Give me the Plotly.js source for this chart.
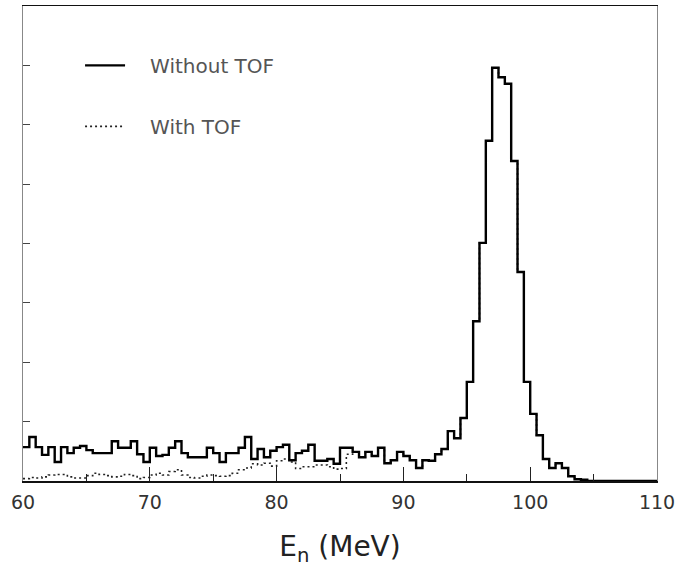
<!DOCTYPE html>
<html>
<head>
<meta charset="utf-8">
<script src="https://cdn.plot.ly/plotly-3.0.1.min.js"></script>
<style>
  html, body { margin: 0; padding: 0; background: #fff; }
  #chart { width: 681px; height: 567px; }
</style>
</head>
<body>
<div id="chart"></div>
<script>
// Histogram: 0.5 MeV bins from 60 to 110 MeV (bin left edges)
const binStart = 60;
const binWidth = 0.5;

// Counts per bin (arbitrary units)
const withoutTOF = [
  57, 74, 57, 44, 57, 32, 57, 47, 56, 59,
  52, 47, 47, 47, 67, 56, 56, 67, 45, 32,
  56, 42, 44, 56, 67, 47, 40, 40, 40, 56,
  47, 32, 47, 47, 56, 74, 37, 54, 40, 51,
  57, 61, 35, 47, 51, 61, 34, 34, 37, 29,
  56, 56, 49, 40, 49, 42, 56, 30, 35, 49,
  42, 35, 22, 35, 34, 45, 54, 84, 72, 106,
  167, 269, 401, 573, 696, 680, 669, 539, 352, 167,
  113, 77, 37, 22, 30, 22, 8, 3, 2, 0,
  0, 0, 0, 0, 0, 0, 0, 0, 0, 0
];
const withTOF = [
  4, 6, 5, 7, 10, 11, 11, 7, 5, 5,
  9, 13, 11, 9, 7, 8, 11, 9, 4, 6,
  10, 13, 10, 16, 19, 10, 6, 5, 8, 10,
  9, 8, 9, 13, 19, 22, 29, 27, 30, 25,
  34, 37, 32, 21, 24, 24, 27, 27, 24, 20,
  21, 45, 49, 40, 49, 42, 56, 30, 35, 49,
  42, 35, 22, 35, 34, 45, 54, 84, 72, 106,
  167, 269, 401, 573, 696, 680, 669, 539, 352, 167,
  113, 77, 37, 22, 30, 22, 8, 3, 2, 0,
  0, 0, 0, 0, 0, 0, 0, 0, 0, 0
];

const seriesNames = ['Without TOF', 'With TOF'];
const xTickVals = [60, 70, 80, 90, 100, 110];
const xTickText = ['60', '70', '80', '90', '100', '110'];

// step-line helper: left edges plus the closing right edge
function stepXY(vals) {
  const xs = vals.map((_, i) => binStart + i * binWidth);
  xs.push(binStart + vals.length * binWidth);
  const ys = vals.slice();
  ys.push(vals[vals.length - 1]);
  return { x: xs, y: ys };
}

const sWith = stepXY(withTOF);
const sWithout = stepXY(withoutTOF);
const gap = '\u2002\u2002';

const traces = [
  {
    type: 'scatter', mode: 'lines', name: gap + seriesNames[1],
    x: sWith.x, y: sWith.y,
    line: { shape: 'hv', color: '#222', width: 1.6, dash: '2px,3px' },
    legendgroup: 'b', legendrank: 2
  },
  {
    type: 'scatter', mode: 'lines', name: gap + seriesNames[0],
    x: sWithout.x, y: sWithout.y,
    line: { shape: 'hv', color: '#000', width: 2.4 },
    legendgroup: 'a', legendrank: 1
  }
];

const layout = {
  width: 681, height: 567,
  margin: { l: 23, r: 24, t: 6, b: 86 },
  paper_bgcolor: '#fff', plot_bgcolor: '#fff',
  font: { family: 'DejaVu Sans, sans-serif', color: '#333' },
  showlegend: true,
  legend: {
    x: 0.09, xanchor: 'left', y: 0.916, yanchor: 'top',
    bgcolor: 'rgba(0,0,0,0)', borderwidth: 0,
    font: { size: 20, color: '#555', family: 'DejaVu Sans, sans-serif' },
    traceorder: 'grouped', tracegroupgap: 32, itemwidth: 40
  },
  xaxis: {
    range: [60, 110],
    tickvals: xTickVals, ticktext: xTickText,
    ticks: 'inside', ticklen: 14, tickwidth: 1, tickcolor: '#222',
    minor: { ticks: 'inside', ticklen: 7, dtick: 5, tick0: 60, tickcolor: '#222', showgrid: false },
    showline: true, linecolor: '#111', linewidth: 1.5, mirror: true,
    showgrid: false, zeroline: false,
    ticklabelstandoff: 4,
    tickfont: { size: 19, color: '#333' },
    title: { text: 'E<sub>n</sub> (MeV)', font: { size: 28, color: '#222' }, standoff: 31 }
  },
  yaxis: {
    range: [0, 800], dtick: 100,
    ticks: 'inside', ticklen: 7, tickwidth: 1, tickcolor: '#444',
    showticklabels: false,
    showline: true, linecolor: '#888', linewidth: 1, mirror: true,
    showgrid: false, zeroline: false
  }
};

Plotly.newPlot('chart', traces, layout, { displayModeBar: false, staticPlot: true });
</script>
</body>
</html>
